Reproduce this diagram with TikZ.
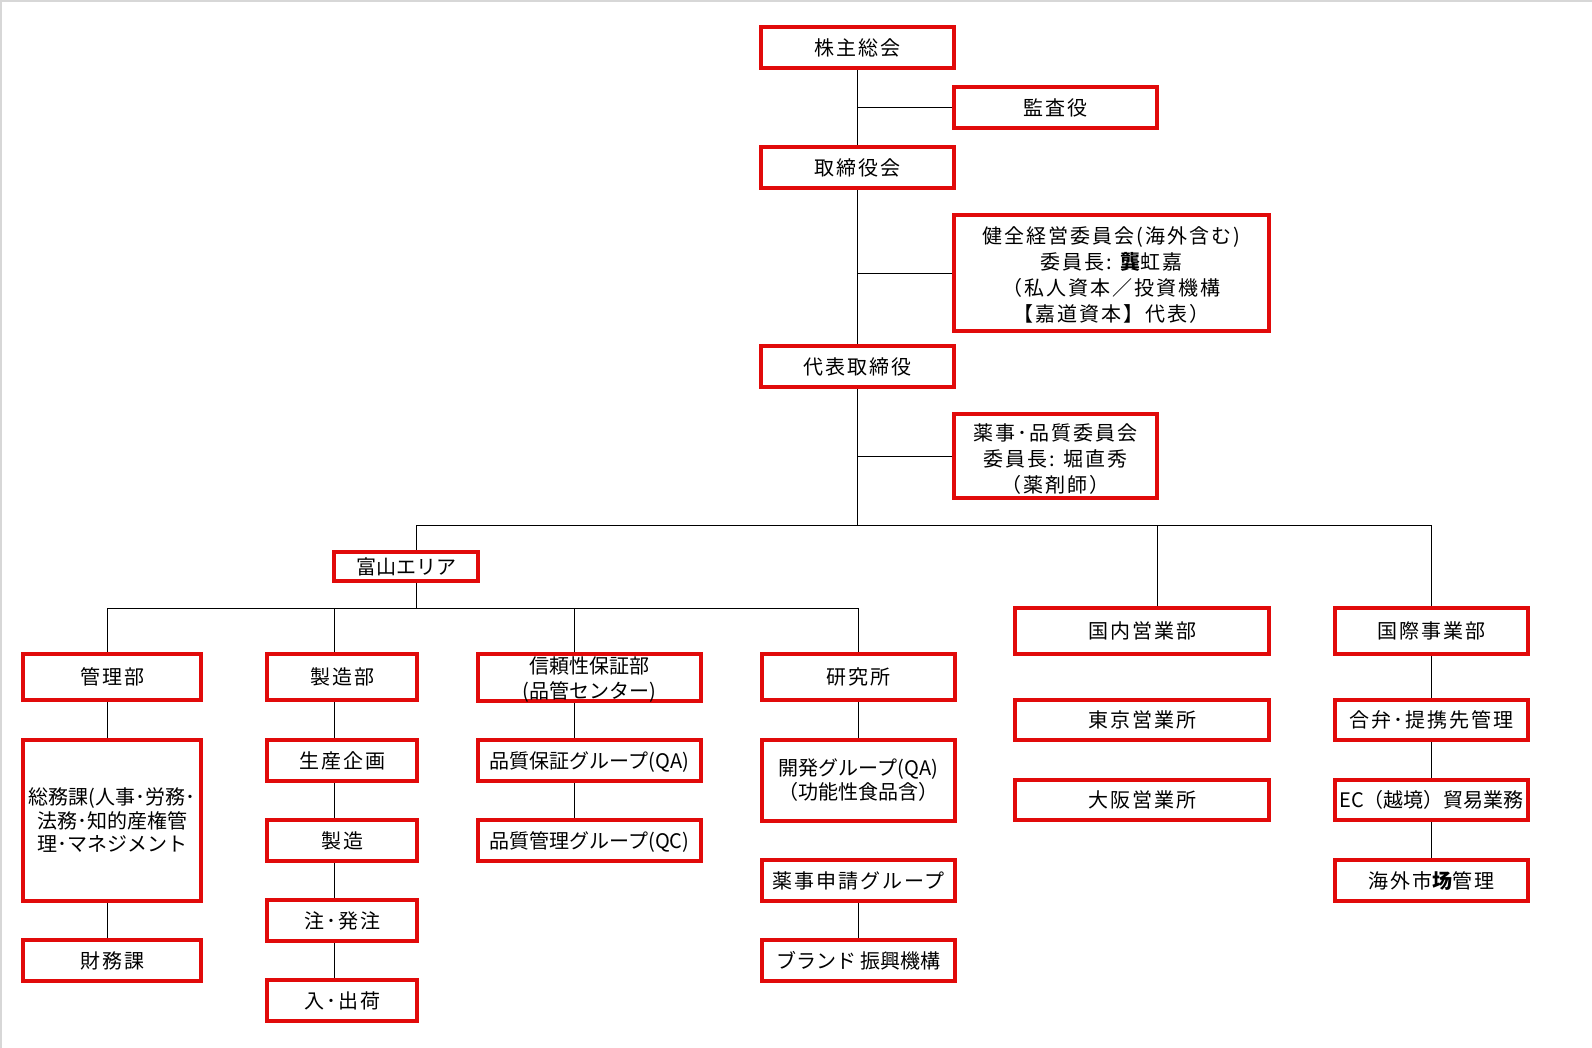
\documentclass[tikz,border=0pt]{standalone}
\usepackage{fontspec}
\setmainfont{Noto Sans CJK JP}
\newfontfamily\jpsp{Noto Sans CJK JP}[LetterSpace=10]
\newfontfamily\jppl{Noto Sans CJK JP}
\usetikzlibrary{backgrounds}
\definecolor{boxred}{RGB}{225,10,10}
\definecolor{framegray}{RGB}{215,215,215}
\tikzset{
  orgbox/.style={draw=boxred, line width=2.3pt, fill=white, inner sep=0pt, outer sep=0pt, text=black, text depth=1.3pt, text height=12.7pt, anchor=center},
  sz/.style 2 args={minimum width=#1*0.75pt, minimum height=#2*0.75pt},
  spacedtxt/.style={font=\jpsp\fontsize{15}{19.7}\selectfont},
  plaintxt/.style={font=\jppl\fontsize{15}{17.5}\selectfont},
  link/.style={draw=black, line width=0.7pt},
}
\newcommand{\lines}[1]{\begin{tabular}[b]{@{}c@{}}#1\end{tabular}}
\begin{document}
\begin{tikzpicture}[x=0.75pt,y=-0.75pt]
\useasboundingbox (0,0) rectangle (1592,1048);
\begin{scope}[on background layer]
  \fill[white] (0,0) rectangle (1592,1048);
  \draw[framegray, line width=1.2pt] (0.8,1048) -- (0.8,0.8) -- (1592,0.8);
\end{scope}

% top column
\node[orgbox, spacedtxt, sz={193}{41}] (kabu) at (857.5,47.5) {株主総会};
\node[orgbox, spacedtxt, sz={203}{41}] (kansa) at (1055.5,107.5) {監査役};
\node[orgbox, spacedtxt, sz={193}{41}] (tori) at (857.5,167.5) {取締役会};
\node[orgbox, spacedtxt, sz={315}{116}, text height=74.8pt] (kenzen) at (1111.5,273) {\lines{健全経営委員会(海外含む)\\委員長: {\bfseries 龔}虹嘉\\（私人資本／投資機構\\【嘉道資本】代表）}};
\node[orgbox, spacedtxt, sz={193}{41}] (daihyo) at (857.5,366.5) {代表取締役};
\node[orgbox, spacedtxt, sz={203}{84}, text height=56.6pt] (yakuji) at (1055.5,456) {\lines{薬事･品質委員会\\委員長: 堀直秀\\（薬剤師）}};

% second level
\node[orgbox, plaintxt, sz={144}{29}] (toyama) at (406,566.5) {富山エリア};
\node[orgbox, spacedtxt, sz={254}{46}] (kokunai) at (1142,631) {国内営業部};
\node[orgbox, spacedtxt, sz={193}{46}] (kokusai) at (1431.5,631) {国際事業部};
\node[orgbox, spacedtxt, sz={254}{40}] (tokyo) at (1142,720) {東京営業所};
\node[orgbox, spacedtxt, sz={254}{40}] (osaka) at (1142,800) {大阪営業所};
\node[orgbox, spacedtxt, sz={193}{40}] (gouben) at (1431.5,720) {合弁･提携先管理};
\node[orgbox, plaintxt, sz={193}{40}] (ec) at (1431.5,800) {EC（越境）貿易業務};
\node[orgbox, spacedtxt, sz={193}{41}] (kaigai) at (1431.5,880.5) {海外市{\bfseries 场}管理};

% Toyama departments
\node[orgbox, spacedtxt, sz={178}{46}] (kanri) at (112,677) {管理部};
\node[orgbox, plaintxt, sz={178}{161}, text height=47.7pt] (soumu) at (112,820.5) {\lines{総務課(人事･労務･\\法務･知的産権管\\理･マネジメント}};
\node[orgbox, spacedtxt, sz={178}{41}] (zaimu) at (112,960.5) {財務課};

\node[orgbox, spacedtxt, sz={150}{46}] (seizoubu) at (342,677) {製造部};
\node[orgbox, spacedtxt, sz={150}{41}] (seisan) at (342,760.5) {生産企画};
\node[orgbox, spacedtxt, sz={150}{41}] (seizou) at (342,840.5) {製造};
\node[orgbox, spacedtxt, sz={150}{41}] (chuu) at (342,920.5) {注･発注};
\node[orgbox, spacedtxt, sz={150}{41}] (nyuu) at (342,1000.5) {入･出荷};

\node[orgbox, font=\jppl\fontsize{15}{18.75}\selectfont, sz={223}{47}, text height=33.5pt] (shinrai) at (589.5,677.5) {\lines{信頼性保証部\\(品管センター)}};
\node[orgbox, plaintxt, sz={223}{41}] (qa) at (589.5,760.5) {品質保証グループ(QA)};
\node[orgbox, plaintxt, sz={223}{41}] (qc) at (589.5,840.5) {品質管理グループ(QC)};

\node[orgbox, spacedtxt, sz={193}{46}] (kenkyu) at (858.5,677) {研究所};
\node[orgbox, plaintxt, sz={193}{81}, text height=30.2pt] (kaihatsu) at (858.5,780.5) {\lines{開発グループ(QA)\\（功能性食品含）}};
\node[orgbox, spacedtxt, sz={193}{41}] (shinsei) at (858.5,880.5) {薬事申請グループ};
\node[orgbox, plaintxt, sz={193}{41}] (brand) at (858.5,960.5) {ブランド 振興機構};

% bus coordinates
\coordinate (busA) at (416,525);
\coordinate (busK) at (1157,525);
\coordinate (busB) at (107,608);
\coordinate (busS) at (334,608);
\coordinate (busR) at (574,608);

\begin{scope}[on background layer]
  % trunk
  \draw[link] (kabu.south) -- (tori.north);
  \draw[link] (tori.south) -- (daihyo.north);
  \draw[link] (daihyo.south) -- (daihyo.south |- busA);
  \draw[link] (kabu.south |- kansa.west) -- (kansa.west);
  \draw[link] (tori.south |- kenzen.west) -- (kenzen.west);
  \draw[link] (daihyo.south |- yakuji.west) -- (yakuji.west);
  % first bus
  \draw[link] (toyama.north -| busA) -- (busA) -- (busA -| kokusai.north) -- (kokusai.north);
  \draw[link] (busK) -- (kokunai.north -| busK);
  % second bus
  \draw[link] (toyama.south -| busA) -- (busA |- busB);
  \draw[link] (kanri.north -| busB) -- (busB) -- (busB -| kenkyu.north) -- (kenkyu.north);
  \draw[link] (busS) -- (seizoubu.north -| busS);
  \draw[link] (busR) -- (shinrai.north -| busR);
  % kanri column
  \draw[link] (kanri.south -| busB) -- (soumu.north -| busB);
  \draw[link] (soumu.south -| busB) -- (zaimu.north -| busB);
  % seizou column
  \draw[link] (seizoubu.south -| busS) -- (seisan.north -| busS);
  \draw[link] (seisan.south -| busS) -- (seizou.north -| busS);
  \draw[link] (seizou.south -| busS) -- (chuu.north -| busS);
  \draw[link] (chuu.south -| busS) -- (nyuu.north -| busS);
  % shinrai column
  \draw[link] (shinrai.south -| busR) -- (qa.north -| busR);
  \draw[link] (qa.south -| busR) -- (qc.north -| busR);
  % kenkyu column
  \draw[link] (kenkyu.south) -- (kaihatsu.north);
  \draw[link] (shinsei.south) -- (brand.north);
  % kokusai column
  \draw[link] (kokusai.south) -- (gouben.north);
  \draw[link] (gouben.south) -- (ec.north);
  \draw[link] (ec.south) -- (kaigai.north);
\end{scope}
\end{tikzpicture}
\end{document}
